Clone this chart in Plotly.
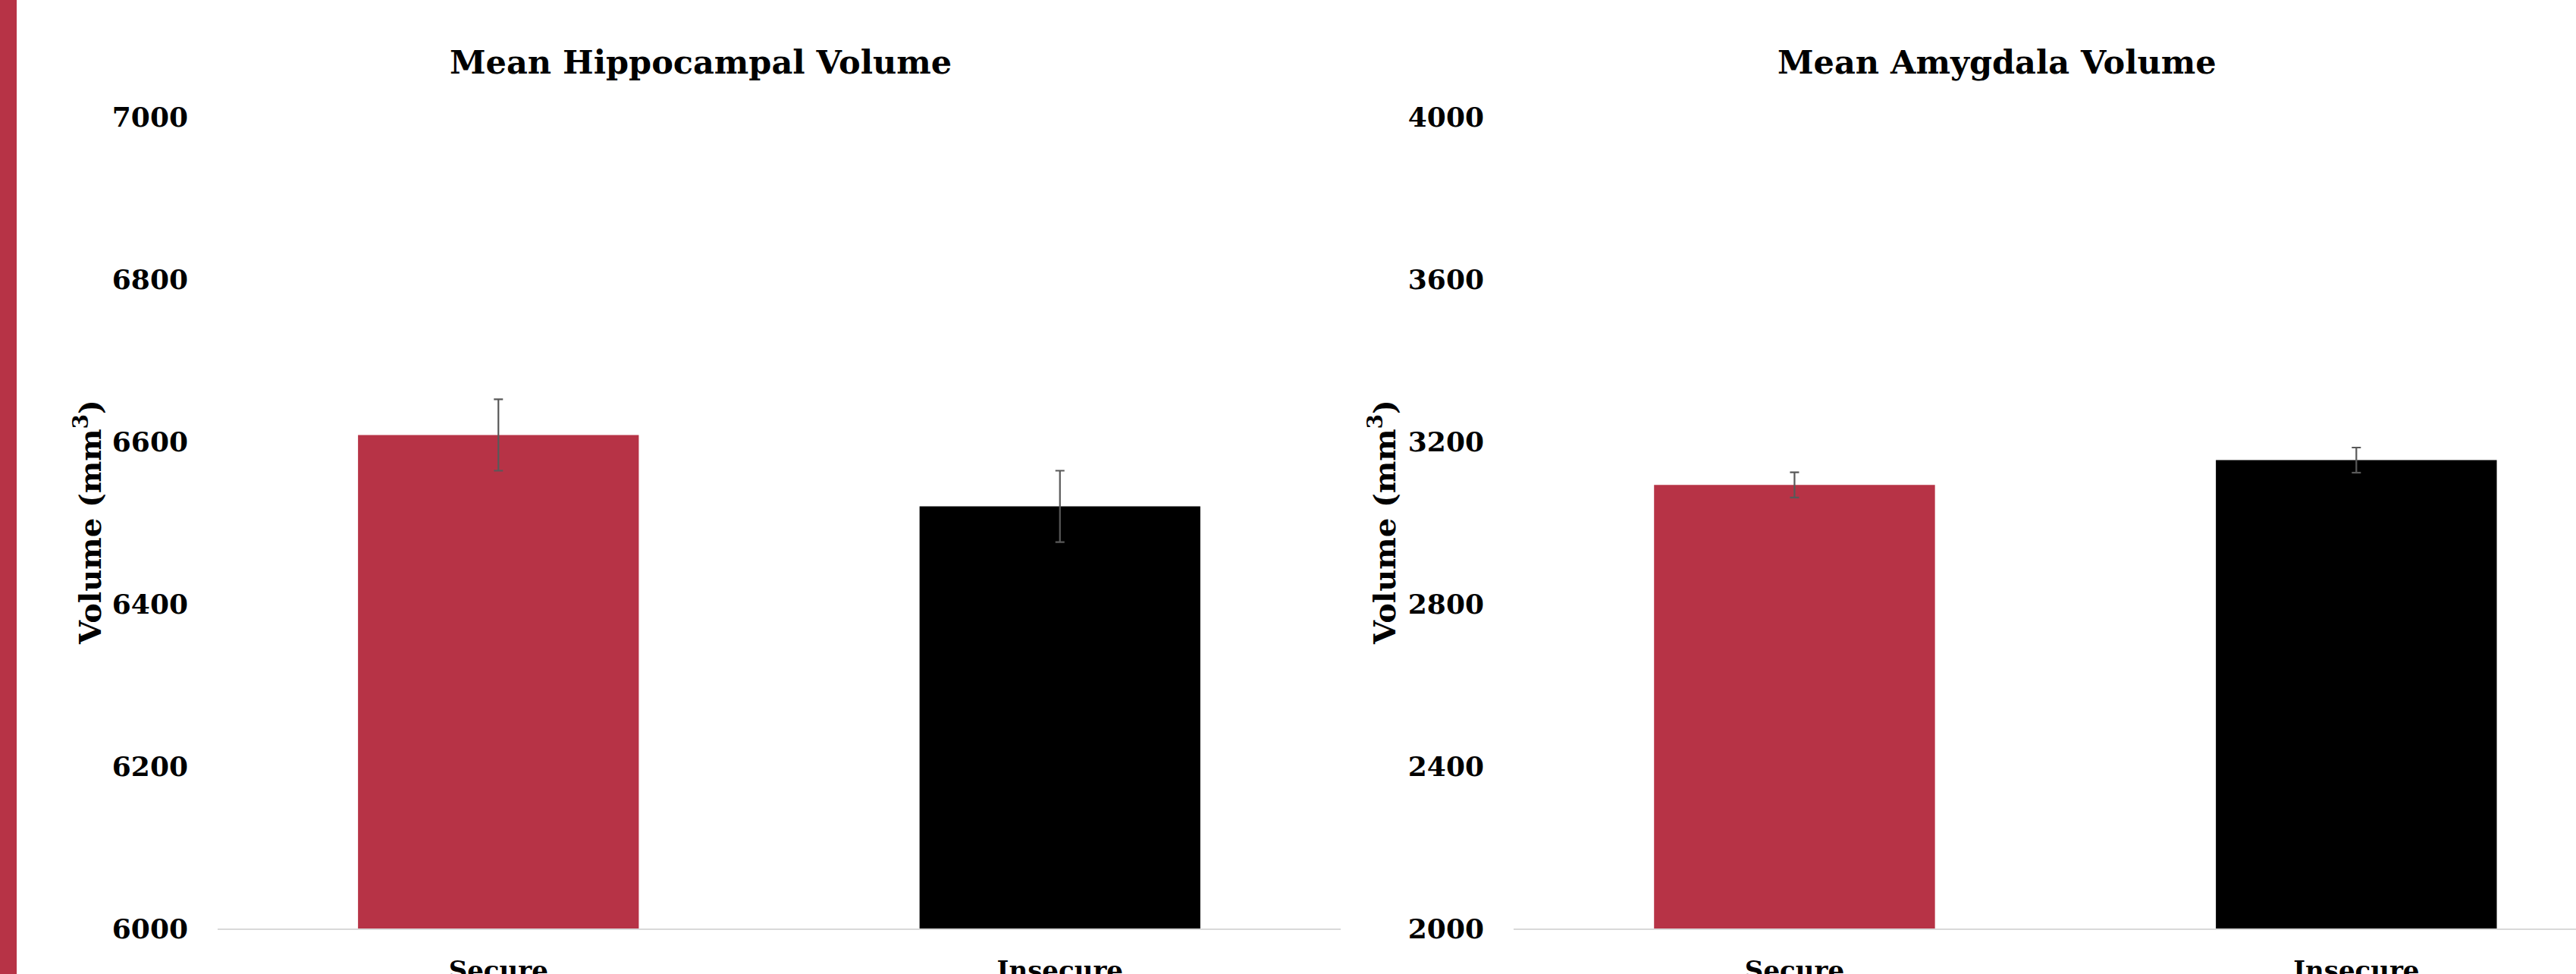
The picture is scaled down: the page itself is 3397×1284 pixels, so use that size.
import plotly.graph_objects as go

W, H = 3397, 1284

groups = ["Secure", "Insecure"]
hippo_mean = [6608, 6520]
hippo_err = [44, 44]
amyg_mean = [3093, 3154]
amyg_err = [31, 31]
hippo_ticks = [6000, 6200, 6400, 6600, 6800, 7000]
amyg_ticks = [2000, 2400, 2800, 3200, 3600, 4000]

RED = "#B73346"
BLACK = "#000000"
FONT = "DejaVu Serif"

fig = go.Figure()
fig.add_trace(go.Bar(x=groups, y=hippo_mean, width=0.5, marker=dict(color=[RED, BLACK], line=dict(width=0)),
                     error_y=dict(type="data", array=hippo_err, color="#595959", thickness=2.2, width=6),
                     xaxis="x", yaxis="y", showlegend=False))
fig.add_trace(go.Bar(x=groups, y=amyg_mean, width=0.5, marker=dict(color=[RED, BLACK], line=dict(width=0)),
                     error_y=dict(type="data", array=amyg_err, color="#595959", thickness=2.2, width=6),
                     xaxis="x2", yaxis="y2", showlegend=False))

ydom = [(H - 1224) / H, (H - 154) / H]
ytickfont = dict(family=FONT, size=36, color="black", weight="bold")
xtickfont = dict(family=FONT, size=34, color="black", weight="bold")

fig.update_layout(
    width=W, height=H, margin=dict(l=0, r=0, t=0, b=0, autoexpand=False),
    paper_bgcolor="white", plot_bgcolor="white",
    xaxis=dict(domain=[287 / W, 1768 / W], range=[-0.5, 1.5], showline=True, linecolor="#D9D9D9", linewidth=2,
               showgrid=False, zeroline=False, ticks="", tickfont=xtickfont, ticklabelstandoff=24,
               anchor="y", automargin=False),
    yaxis=dict(domain=ydom, range=[6000, 7000], tickvals=hippo_ticks, showgrid=False, zeroline=False,
               showline=False, ticks="", tickfont=ytickfont, ticklabelstandoff=38, anchor="x", automargin=False),
    xaxis2=dict(domain=[1996 / W, 1.0], range=[-0.5, 1.391], showline=True, linecolor="#D9D9D9", linewidth=2,
                showgrid=False, zeroline=False, ticks="", tickfont=xtickfont, ticklabelstandoff=24,
                anchor="y2", automargin=False),
    yaxis2=dict(domain=ydom, range=[2000, 4000], tickvals=amyg_ticks, showgrid=False, zeroline=False,
                showline=False, ticks="", tickfont=ytickfont, ticklabelstandoff=38, anchor="x2", automargin=False),
    bargap=0.5,
)

titlefont = dict(family=FONT, size=43, color="black", weight="bold")
fig.add_annotation(text="Mean Hippocampal Volume", x=924 / W, y=(H - 82) / H, xref="paper", yref="paper",
                   showarrow=False, font=titlefont, xanchor="center", yanchor="middle")
fig.add_annotation(text="Mean Amygdala Volume", x=2633 / W, y=(H - 82) / H, xref="paper", yref="paper",
                   showarrow=False, font=titlefont, xanchor="center", yanchor="middle")

axtitlefont = dict(family=FONT, size=40, color="black", weight="bold")
for xc in [116, 1823]:
    fig.add_annotation(text="Volume (mm<sup>3</sup>)", x=xc / W, y=(H - 689) / H, xref="paper", yref="paper",
                       showarrow=False, font=axtitlefont, textangle=-90, xanchor="center", yanchor="middle")

fig.add_shape(type="rect", xref="paper", yref="paper", x0=0, x1=22 / W, y0=0, y1=1,
              fillcolor=RED, line=dict(width=0), layer="above")

fig.write_html("out.html")
